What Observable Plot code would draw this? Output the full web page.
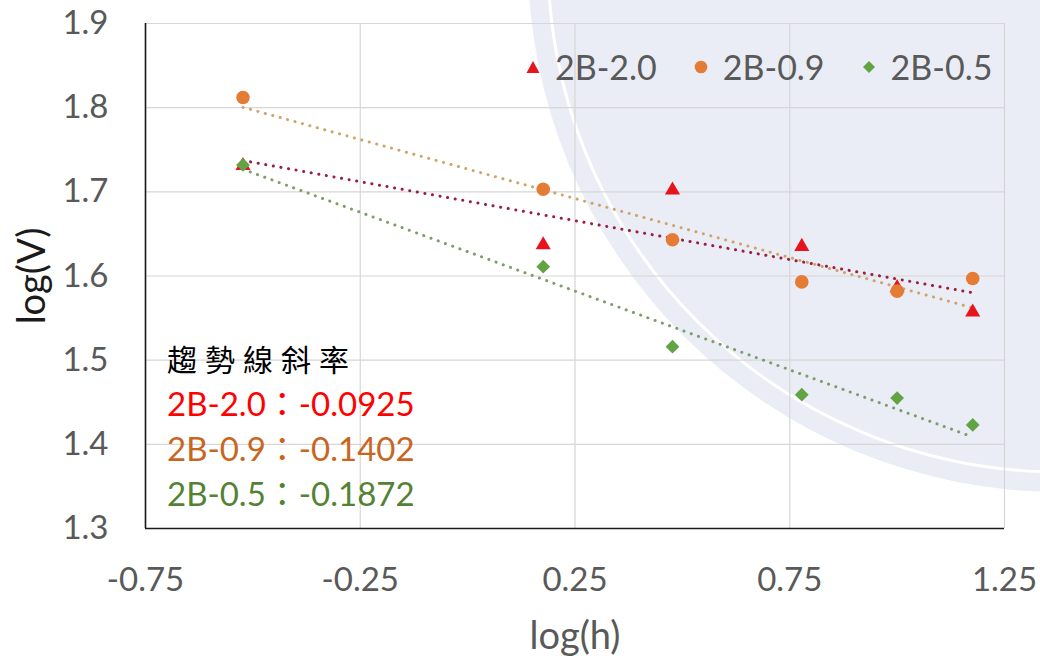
<!DOCTYPE html>
<html>
<head>
<meta charset="utf-8">
<script src="https://cdn.jsdelivr.net/npm/d3@7"></script>
<script src="https://cdn.jsdelivr.net/npm/@observablehq/plot@0.6"></script>
<style>
  html, body { margin: 0; padding: 0; background: #fff; }
  #wrap { position: relative; width: 1040px; height: 656px; overflow: hidden; }
  #bg { position: absolute; left: 0; top: 0; }
  #chart { position: absolute; left: 0; top: 0; }
  .legend { position: absolute; top: 46px; left: 526px; display: flex; align-items: center;
            font: 34px Lato, sans-serif; color: #595959; }
  .legend .item { display: flex; align-items: center; margin-right: 37px; }
  .legend svg { margin-right: 15px; }
  .note { position: absolute; left: 167px; top: 336px; font: 33px Lato, "Noto Sans CJK TC", sans-serif; line-height: 45px; }
  .note .title { font-family: "Noto Sans CJK TC", sans-serif; font-size: 30px; letter-spacing: 8px; color: #000; }
</style>
</head>
<body>
<div id="wrap">
  <svg id="bg" width="1040" height="656">
    <circle cx="1060" cy="-40" r="532" fill="#eaedf5"></circle>
    <circle cx="1060" cy="-40" r="512" fill="none" stroke="#ffffff" stroke-width="3"></circle>
  </svg>
  <div id="chart"></div>
  <div class="legend" id="legend"></div>
  <div class="note" id="note"></div>
</div>
<script>
// log(h) positions shared by every series
const logH = [-0.523, 0.176, 0.477, 0.778, 1.000, 1.176];

// log(V) readings for each pencil grade
const series = ["2B-2.0", "2B-0.9", "2B-0.5"];
const v20 = [1.731, 1.637, 1.702, 1.635, 1.586, 1.557];
const v09 = [1.812, 1.703, 1.643, 1.593, 1.582, 1.597];
const v05 = [1.732, 1.611, 1.516, 1.459, 1.455, 1.423];

// Trend-line slopes as reported in the annotation
const slopes = [-0.0925, -0.1402, -0.1872];

// Axis ticks
const xTicks = [-0.75, -0.25, 0.25, 0.75, 1.25];
const yTicks = [1.3, 1.4, 1.5, 1.6, 1.7, 1.8, 1.9];

const markColors = ["#e8141c", "#e47c36", "#62a444"];
const trendColors = ["#9a2042", "#cfa468", "#7c9e6a"];
const textColors = ["#ff0000", "#c8651f", "#548235"];
const symbols = ["triangle", "circle", "diamond2"];
const radii = [5.6, 6.8, 6.2];

const values = [v20, v09, v05];
const pointsOf = i => values[i].map((v, j) => ({series: series[i], x: logH[j], y: v}));

// Each trend line passes through the centroid of its series with the reported slope
const trendOf = i => {
  const mx = d3.mean(logH), my = d3.mean(values[i]);
  const b = my - slopes[i] * mx;
  const x0 = d3.min(logH), x1 = d3.max(logH);
  return [{x: x0, y: b + slopes[i] * x0}, {x: x1, y: b + slopes[i] * x1}];
};

const font = "Lato, sans-serif";
const chart = Plot.plot({
  width: 1040,
  height: 656,
  marginLeft: 145,
  marginRight: 36,
  marginTop: 23,
  marginBottom: 128,
  style: {background: "transparent", fontFamily: font, fontSize: "33px", color: "#595959"},
  x: {domain: [-0.75, 1.25]},
  y: {domain: [1.3, 1.9]},
  marks: [
    Plot.gridX(xTicks, {stroke: "#d6d6d6", strokeOpacity: 1, strokeWidth: 1.2}),
    Plot.gridY(yTicks, {stroke: "#d6d6d6", strokeOpacity: 1, strokeWidth: 1.2}),
    Plot.axisX(xTicks, {tickSize: 0, tickPadding: 39, tickFormat: d => String(d), label: null, fill: "#595959"}),
    Plot.axisY(yTicks, {tickSize: 0, tickPadding: 37, tickFormat: d => d.toFixed(1), label: null, fill: "#595959"}),
    Plot.ruleX([-0.75], {stroke: "#1a1a1a", strokeWidth: 1.6}),
    Plot.ruleY([1.3], {stroke: "#1a1a1a", strokeWidth: 1.6}),
    Plot.text(["log(h)"], {frameAnchor: "bottom", lineAnchor: "middle", textAnchor: "middle", dy: 108,
      text: d => d, fill: "#595959", fontSize: 38}),
    Plot.text(["log(V)"], {frameAnchor: "left", textAnchor: "middle", lineAnchor: "middle", dx: -113, rotate: -90,
      text: d => d, fill: "#1a1a1a", fontSize: 38}),
    ...series.map((s, i) => Plot.line(trendOf(i), {x: "x", y: "y", stroke: trendColors[i],
      strokeWidth: 3, strokeDasharray: "0.1 7.6", strokeLinecap: "round"})),
    ...series.map((s, i) => Plot.dot(pointsOf(i), {x: "x", y: "y", symbol: symbols[i], r: radii[i],
      fill: markColors[i], stroke: "none"}))
  ]
});
document.getElementById("chart").append(chart);

// Legend
const legend = document.getElementById("legend");
const glyph = {
  triangle: '<polygon points="7,1 13.5,13 0.5,13" fill="' + markColors[0] + '"/>',
  circle: '<circle cx="7" cy="7" r="6.3" fill="' + markColors[1] + '"/>',
  diamond2: '<polygon points="7,1 13,7 7,13 1,7" fill="' + markColors[2] + '"/>'
};
series.forEach((s, i) => {
  const item = document.createElement("div");
  item.className = "item";
  item.innerHTML = '<svg width="14" height="14">' + glyph[symbols[i]] + '</svg><span>' + s + '</span>';
  legend.append(item);
});

// Slope annotation
const note = document.getElementById("note");
const title = document.createElement("div");
title.className = "title";
title.textContent = "趨勢線斜率";
note.append(title);
series.forEach((s, i) => {
  const line = document.createElement("div");
  line.style.color = textColors[i];
  line.textContent = s + "：" + slopes[i].toFixed(4);
  note.append(line);
});
</script>
</body>
</html>
